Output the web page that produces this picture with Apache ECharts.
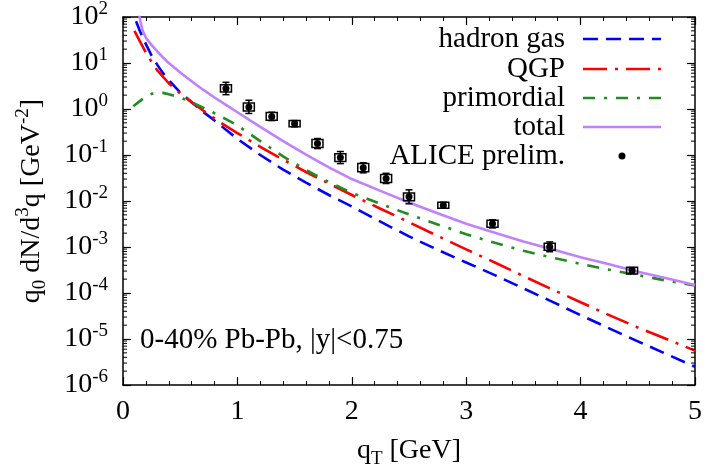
<!DOCTYPE html>
<html><head><meta charset="utf-8">
<script src="https://cdn.jsdelivr.net/npm/echarts@6/dist/echarts.min.js"></script>
<style>html,body{margin:0;padding:0;background:#fff}#c{width:709px;height:475px}</style>
</head><body><div id="c"></div>
<script>
// ---- data ----
const hadronQ = [0.08, 0.1, 0.15, 0.2, 0.25, 0.3, 0.35, 0.4, 0.5, 0.6, 0.7, 0.8, 0.9, 1.0, 1.2, 1.4, 1.6, 1.8, 2.0, 2.25, 2.5, 2.75, 3.0, 3.25, 3.5, 3.75, 4.0, 4.25, 4.5, 4.75, 5.0];
const hadronV = [250, 100, 47.9, 25.7, 14.5, 9.1, 6.0, 4.27, 2.29, 1.41, 0.87, 0.56, 0.355, 0.224, 0.1, 0.048, 0.025, 0.0135, 0.0076, 0.00355, 0.0017, 8.7e-4, 4.6e-4, 2.45e-4, 1.26e-4, 6.5e-5, 3.3e-5, 1.7e-5, 8.9e-6, 4.7e-6, 2.5e-6];
const qgpQ = [0.1, 0.15, 0.2, 0.25, 0.3, 0.4, 0.5, 0.6, 0.7, 0.85, 1.0, 1.2, 1.4, 1.6, 1.8, 2.0, 2.25, 2.5, 2.75, 3.0, 3.25, 3.5, 3.75, 4.0, 4.25, 4.5, 4.75, 5.0];
const qgpV = [50, 28.8, 17, 10.5, 6.9, 3.63, 2.19, 1.41, 0.93, 0.51, 0.30, 0.151, 0.079, 0.0427, 0.024, 0.0135, 0.0068, 0.00347, 0.00174, 8.9e-4, 4.6e-4, 2.34e-4, 1.2e-4, 6.3e-5, 3.3e-5, 1.78e-5, 1.0e-5, 5.6e-6];
const primQ = [0.09, 0.15, 0.2, 0.25, 0.3, 0.35, 0.4, 0.5, 0.6, 0.7, 0.8, 0.9, 1.0, 1.2, 1.4, 1.6, 1.8, 2.0, 2.25, 2.5, 2.75, 3.0, 3.25, 3.5, 3.75, 4.0, 4.25, 4.5, 4.75, 5.0];
const primV = [1.15, 1.5, 1.86, 2.14, 2.24, 2.24, 2.1, 1.78, 1.41, 1.07, 0.81, 0.6, 0.44, 0.2, 0.093, 0.047, 0.0257, 0.0151, 0.0087, 0.0051, 0.0031, 0.0019, 0.00123, 8.3e-4, 5.9e-4, 4.3e-4, 3.2e-4, 2.45e-4, 1.86e-4, 1.45e-4];
const totalQ = [0.12, 0.15, 0.17, 0.2, 0.25, 0.3, 0.35, 0.4, 0.5, 0.6, 0.7, 0.8, 0.9, 1.0, 1.2, 1.4, 1.6, 1.8, 2.0, 2.25, 2.5, 2.75, 3.0, 3.25, 3.5, 3.75, 4.0, 4.25, 4.5, 4.75, 5.0];
const totalV = [250, 85, 52, 35.5, 24.5, 17.8, 13.2, 10, 6.2, 4.0, 2.63, 1.78, 1.23, 0.85, 0.41, 0.2, 0.102, 0.054, 0.030, 0.0166, 0.0093, 0.0054, 0.0032, 0.00204, 0.00132, 8.9e-4, 6.0e-4, 4.2e-4, 2.9e-4, 2.1e-4, 1.5e-4];
const aliceQ = [0.9, 1.1, 1.3, 1.5, 1.7, 1.9, 2.1, 2.3, 2.5, 2.8, 3.23, 3.73, 4.45];
const aliceV = [2.8, 1.11, 0.69, 0.48, 0.177, 0.088, 0.053, 0.031, 0.0123, 0.0081, 0.0032, 0.00101, 3.07e-4];
const aliceStatLo = [2.05, 0.80, 0.56, 0.41, 0.138, 0.065, 0.041, 0.024, 0.0087, 0.007, 0.0026, 0.00079, 2.65e-4];
const aliceStatHi = [3.8, 1.55, 0.85, 0.56, 0.228, 0.119, 0.068, 0.040, 0.0175, 0.0094, 0.0039, 0.00129, 3.56e-4];
const aliceSysLo = [2.35, 0.91, 0.57, 0.41, 0.145, 0.072, 0.043, 0.0254, 0.0101, 0.007, 0.0027, 0.00085, 2.58e-4];
const aliceSysHi = [3.35, 1.35, 0.84, 0.56, 0.216, 0.107, 0.065, 0.0378, 0.015, 0.0094, 0.0038, 0.0012, 3.65e-4];
const xTicks = [0, 1, 2, 3, 4, 5];
const yDecades = [-6, -5, -4, -3, -2, -1, 0, 1, 2];
const minorMult = [2, 3, 4, 5, 6, 7, 8, 9];
const legendNames = ['hadron gas', 'QGP', 'primordial', 'total', 'ALICE prelim.'];
const noteText = '0-40% Pb-Pb, |y|<0.75';

// ---- build ----
const FONT = '"Liberation Serif", "Times New Roman", serif';
const zip = (a, b) => a.map((x, i) => [x, b[i]]);
const COL = { hadron: '#0000ff', qgp: '#ff0000', prim: '#228b22', total: '#c080ff' };
const DASH = { hadron: [15, 8], qgp: [24, 8, 3, 8], prim: [12, 9, 3, 9] };

const minorTickData = [];
yDecades.slice(0, -1).forEach(d => minorMult.forEach(m => minorTickData.push([0, m * Math.pow(10, d)])));

const supRich = {
  b: { fontSize: 28, fontFamily: FONT, color: '#000', lineHeight: 34, verticalAlign: 'middle' },
  e: { fontSize: 19, fontFamily: FONT, color: '#000', lineHeight: 20, verticalAlign: 'top' }
};

const chart = echarts.init(document.getElementById('c'), null, { renderer: 'canvas' });
const lineSeries = (name, q, v, c, dash) => ({
  name, type: 'line', data: zip(q, v), showSymbol: false, symbol: 'none',
  smooth: false, clip: true,
  lineStyle: { color: c, width: 2.6, type: dash || 'solid', join: 'round' }, z: 3
});

const legendY = [39, 69, 98, 127, 156];
const legendStyles = [
  { c: COL.hadron, d: DASH.hadron }, { c: COL.qgp, d: DASH.qgp },
  { c: COL.prim, d: DASH.prim }, { c: COL.total, d: null }
];
const graphics = [];
legendNames.forEach((n, i) => {
  graphics.push({ type: 'text', x: 565, y: legendY[i], style: { text: n, font: '29px ' + FONT, fill: '#000', textAlign: 'right', textVerticalAlign: 'middle', align: 'right', verticalAlign: 'middle' } });
  if (i < 4) {
    const s = legendStyles[i];
    graphics.push({ type: 'line', shape: { x1: 583, y1: legendY[i], x2: 661, y2: legendY[i] }, style: { stroke: s.c, lineWidth: 2.6, lineDash: s.d || null } });
  } else {
    graphics.push({ type: 'circle', shape: { cx: 622, cy: legendY[i], r: 3.5 }, style: { fill: '#000' } });
  }
});
graphics.push({ type: 'text', x: 140, y: 340, style: { text: noteText, font: '29px ' + FONT, fill: '#000', textAlign: 'left', textVerticalAlign: 'middle', align: 'left', verticalAlign: 'middle' } });

const axisLine = { show: true, onZero: false, lineStyle: { color: '#000', width: 1.5 } };
const option = {
  animation: false,
  backgroundColor: '#fff',
  grid: { left: 123, right: 14, top: 17, bottom: 90, containLabel: false },
  xAxis: [
    { type: 'value', min: 0, max: 5, interval: 1, position: 'bottom',
      axisLine, axisTick: { inside: true, length: 8, lineStyle: { color: '#000', width: 1.2 } },
      minorTick: { show: true, splitNumber: 5, length: 4, lineStyle: { color: '#000', width: 1 } },
      splitLine: { show: false },
      axisLabel: { margin: 13, fontSize: 28, fontFamily: FONT, color: '#000', formatter: v => xTicks.includes(v) ? String(v) : '' },
      name: '{t|q}{s|T}{t| [GeV]}', nameLocation: 'middle', nameGap: 48,
      nameTextStyle: { rich: {
        t: { fontSize: 28, fontFamily: FONT, color: '#000', lineHeight: 36, verticalAlign: 'middle' },
        s: { fontSize: 19, fontFamily: FONT, color: '#000', lineHeight: 20, verticalAlign: 'bottom' } } } },
    { type: 'value', min: 0, max: 5, interval: 1, position: 'top',
      axisLine, axisTick: { inside: true, length: 8, lineStyle: { color: '#000', width: 1.2 } },
      minorTick: { show: true, splitNumber: 5, length: 4, lineStyle: { color: '#000', width: 1 } },
      splitLine: { show: false }, axisLabel: { show: false } }
  ],
  yAxis: [
    { type: 'log', logBase: 10, min: 1e-6, max: 100, position: 'left',
      axisLine, axisTick: { inside: true, length: 8, lineStyle: { color: '#000', width: 1.2 } },
      splitLine: { show: false },
      axisLabel: { margin: 15, color: '#000', rich: supRich,
        formatter: v => '{b|10}{e|' + Math.round(Math.log10(v)) + '}' },
      name: '{t|q}{sub|0}{t| dN/d}{sup|3}{t|q [GeV}{sup|-2}{t|]}', nameLocation: 'middle', nameRotate: 90, nameGap: 73,
      nameTextStyle: { rich: {
        t: { fontSize: 28, fontFamily: FONT, color: '#000', lineHeight: 36, verticalAlign: 'middle' },
        sub: { fontSize: 19, fontFamily: FONT, color: '#000', lineHeight: 20, verticalAlign: 'bottom' },
        sup: { fontSize: 19, fontFamily: FONT, color: '#000', lineHeight: 20, verticalAlign: 'top' } } } },
    { type: 'log', logBase: 10, min: 1e-6, max: 100, position: 'right',
      axisLine, axisTick: { inside: true, length: 8, lineStyle: { color: '#000', width: 1.2 } },
      splitLine: { show: false }, axisLabel: { show: false } }
  ],
  graphic: graphics,
  series: [
    lineSeries('hadron gas', hadronQ, hadronV, COL.hadron, DASH.hadron),
    lineSeries('QGP', qgpQ, qgpV, COL.qgp, DASH.qgp),
    lineSeries('primordial', primQ, primV, COL.prim, DASH.prim),
    lineSeries('total', totalQ, totalV, COL.total, null),
    { name: 'ALICE prelim.', type: 'custom', z: 5, clip: false,
      data: aliceQ.map((q, i) => [q, aliceV[i], aliceStatLo[i], aliceStatHi[i], aliceSysLo[i], aliceSysHi[i]]),
      renderItem: (params, api) => {
        const q = api.value(0);
        const c = api.coord([q, api.value(1)]);
        const s1 = api.coord([q, api.value(2)]), s2 = api.coord([q, api.value(3)]);
        const b1 = api.coord([q, api.value(4)]), b2 = api.coord([q, api.value(5)]);
        const st = { stroke: '#000', lineWidth: 1.5, fill: null };
        return { type: 'group', children: [
          { type: 'rect', shape: { x: c[0] - 5.5, y: b2[1], width: 11, height: b1[1] - b2[1] }, style: { stroke: '#000', lineWidth: 1.5, fill: 'none' } },
          { type: 'line', shape: { x1: c[0], y1: s1[1], x2: c[0], y2: s2[1] }, style: st },
          { type: 'line', shape: { x1: c[0] - 3.5, y1: s1[1], x2: c[0] + 3.5, y2: s1[1] }, style: st },
          { type: 'line', shape: { x1: c[0] - 3.5, y1: s2[1], x2: c[0] + 3.5, y2: s2[1] }, style: st },
          { type: 'circle', shape: { cx: c[0], cy: c[1], r: 3.5 }, style: { fill: '#000' } }
        ] };
      } },
    { name: 'minor-y-ticks', type: 'custom', z: 6, clip: false, silent: true,
      data: minorTickData,
      renderItem: (params, api) => {
        const l = api.coord([0, api.value(1)]);
        const r = api.coord([5, api.value(1)]);
        const st = { stroke: '#000', lineWidth: 1 };
        return { type: 'group', children: [
          { type: 'line', shape: { x1: l[0], y1: l[1], x2: l[0] + 4, y2: l[1] }, style: st },
          { type: 'line', shape: { x1: r[0], y1: r[1], x2: r[0] - 4, y2: r[1] }, style: st }
        ] };
      } }
  ]
};
chart.setOption(option);
</script></body></html>
